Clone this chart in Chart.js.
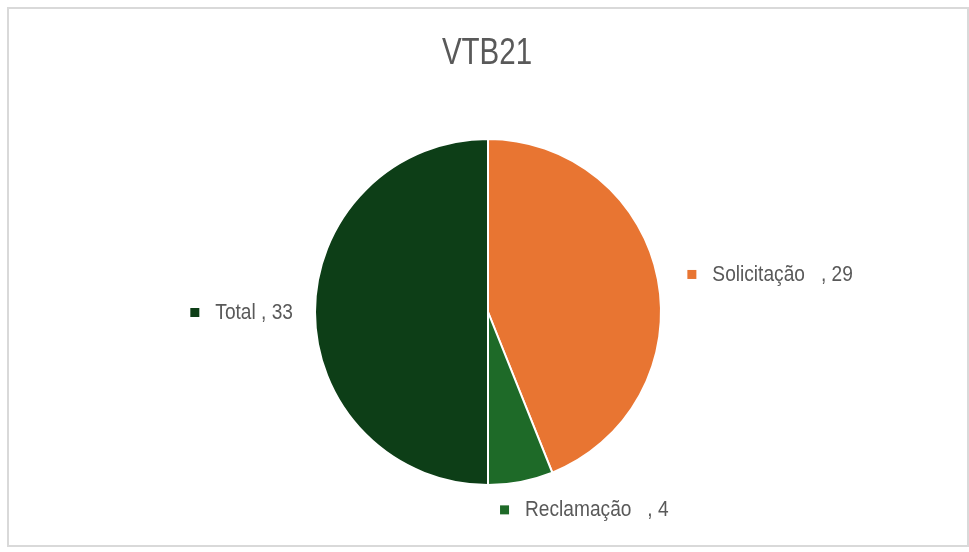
<!DOCTYPE html>
<html>
<head>
<meta charset="utf-8">
<script src="https://cdn.jsdelivr.net/npm/chart.js"></script>
<style>
  html, body { margin: 0; padding: 0; background: #fff; }
  #wrap { position: relative; width: 969px; height: 552px; }
  #frame { position: absolute; left: 7px; top: 7px; width: 958px; height: 536px; border: 2px solid #d9d9d9; }
  canvas { position: absolute; left: 0; top: 0; }
</style>
</head>
<body>
<div id="wrap">
  <div id="frame"></div>
  <canvas id="graficoVtb" width="969" height="552"></canvas>
</div>
<script>
const titulo = "VTB21";
const categorias = ["Solicitação   ", "Reclamação   ", "Total "];
const valores = [29, 4, 33];
const cores = ["#e87532", "#1e6a28", "#0d3e17"];

// texto estreito: escala horizontal sobre a Liberation Sans
function textoNarrow(ctx, txt, x, y, esc) {
  ctx.save();
  ctx.translate(x, y);
  ctx.scale(esc, 1);
  ctx.fillText(txt, 0, 0);
  ctx.restore();
}
function larguraNarrow(ctx, txt, esc) {
  return ctx.measureText(txt).width * esc;
}

const rotulosPlugin = {
  id: "rotulos",
  afterDraw(chart) {
    const ctx = chart.ctx;
    // titulo
    ctx.save();
    ctx.fillStyle = "#595959";
    ctx.font = "36px 'Liberation Sans', sans-serif";
    ctx.textBaseline = "alphabetic";
    const tw = larguraNarrow(ctx, titulo, 0.82);
    textoNarrow(ctx, titulo, 487 - tw / 2, 64, 0.82);

    // rotulos das fatias
    const esc = 0.87;
    ctx.font = "22px 'Liberation Sans', sans-serif";
    const meta = chart.getDatasetMeta(0);
    meta.data.forEach((arc, i) => {
      const ang = (arc.startAngle + arc.endAngle) / 2;
      const r = arc.outerRadius + 28;
      const px = arc.x + Math.cos(ang) * r;
      const py = arc.y + Math.sin(ang) * r;
      const txt = categorias[i] + ", " + valores[i];
      const w = 25 + larguraNarrow(ctx, txt, esc);
      let x0;
      if (Math.abs(Math.sin(ang)) > 0.9) x0 = px - 26;
      else if (Math.cos(ang) > 0) x0 = px + 2;
      else x0 = px - w + 6;
      ctx.fillStyle = cores[i];
      ctx.fillRect(x0, py - 4, 9, 9);
      ctx.fillStyle = "#595959";
      textoNarrow(ctx, txt, x0 + 25, py + 7, esc);
    });
    ctx.restore();
  }
};

new Chart(document.getElementById("graficoVtb"), {
  type: "pie",
  data: {
    labels: categorias,
    datasets: [{
      data: valores,
      backgroundColor: cores,
      borderColor: "#ffffff",
      borderWidth: 2
    }]
  },
  options: {
    responsive: false,
    animation: false,
    layout: { padding: { top: 138, bottom: 66, left: 314, right: 307 } },
    plugins: {
      legend: { display: false },
      tooltip: { enabled: false },
      title: { display: false }
    }
  },
  plugins: [rotulosPlugin]
});
</script>
</body>
</html>
